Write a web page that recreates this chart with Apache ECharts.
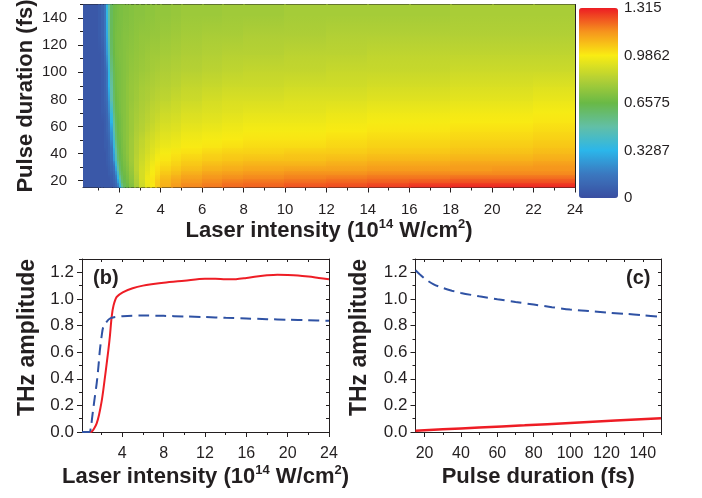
<!DOCTYPE html>
<html>
<head>
<meta charset="utf-8">
<script src="https://cdn.jsdelivr.net/npm/echarts@6/dist/echarts.min.js"></script>
<style>
  html, body { margin: 0; padding: 0; background: #fff; }
  #chart { width: 702px; height: 498px; }
</style>
</head>
<body>
<div id="chart"></div>
<script>
// ---- Panel (a): THz amplitude map over laser intensity x pulse duration ----
// Cell edges along intensity (10^14 W/cm^2)
const intensityEdges = [0.25, 1.0, 1.15, 1.3, 1.4, 1.5, 1.6, 1.7, 1.8, 1.9,
  2.0, 2.1, 2.2, 2.35, 2.5, 2.75, 3.0, 3.25, 3.5, 3.75,
  4.0, 4.5, 5, 6, 7, 8, 10, 12, 14, 16, 18, 20, 22, 24];
// Cell edges along pulse duration (fs)
const durationEdges = [15, 18, 21, 24, 27, 30, 34, 38, 43, 48, 54, 60, 67, 75, 85, 95, 107, 120, 135, 150];
// Amplitude per cell, one row per duration band (bottom to top)
const ampRow00 = [.04,.04,.04,.04,.04,.04,.04,.06,.09,.15,.33,.52,.62,.66,.71,.80,.88,.95,.99,1.05,1.10,1.14,1.17,1.19,1.21,1.22,1.24,1.25,1.27,1.29,1.30,1.30,1.30];
const ampRow01 = [.04,.04,.04,.04,.04,.04,.06,.08,.12,.25,.42,.60,.64,.68,.73,.81,.89,.96,1.00,1.05,1.09,1.12,1.15,1.17,1.19,1.20,1.21,1.22,1.23,1.24,1.25,1.25,1.25];
const ampRow02 = [.04,.04,.04,.04,.04,.04,.06,.09,.14,.33,.50,.61,.65,.69,.74,.82,.90,.96,1.00,1.04,1.08,1.11,1.13,1.15,1.16,1.17,1.18,1.19,1.20,1.20,1.21,1.21,1.21];
const ampRow03 = [.04,.04,.04,.04,.04,.06,.07,.10,.20,.38,.57,.63,.67,.70,.75,.83,.90,.95,.99,1.02,1.06,1.08,1.11,1.13,1.14,1.15,1.16,1.16,1.17,1.17,1.17,1.17,1.17];
const ampRow04 = [.04,.04,.04,.04,.04,.06,.09,.13,.26,.47,.60,.65,.68,.71,.76,.84,.90,.94,.98,1.01,1.04,1.06,1.08,1.10,1.11,1.12,1.13,1.13,1.14,1.14,1.14,1.15,1.15];
const ampRow05 = [.04,.04,.04,.04,.05,.07,.10,.15,.35,.52,.62,.66,.69,.72,.77,.84,.89,.93,.97,1.00,1.02,1.04,1.06,1.08,1.09,1.10,1.10,1.11,1.12,1.12,1.13,1.13,1.14];
const ampRow06 = [.04,.04,.04,.04,.06,.08,.12,.25,.42,.58,.64,.67,.70,.73,.78,.84,.88,.92,.95,.98,1.00,1.02,1.04,1.05,1.06,1.07,1.07,1.08,1.09,1.09,1.10,1.10,1.11];
const ampRow07 = [.04,.04,.04,.04,.06,.09,.14,.28,.48,.60,.65,.68,.71,.74,.78,.83,.87,.90,.93,.96,.98,1.00,1.01,1.03,1.04,1.04,1.05,1.05,1.06,1.06,1.07,1.07,1.08];
const ampRow08 = [.04,.04,.04,.06,.06,.09,.15,.35,.52,.62,.66,.69,.71,.74,.78,.83,.86,.89,.92,.94,.96,.97,.99,1.00,1.01,1.02,1.02,1.03,1.04,1.04,1.05,1.05,1.06];
const ampRow09 = [.04,.04,.04,.06,.07,.10,.22,.40,.58,.64,.67,.69,.72,.74,.78,.82,.85,.88,.90,.92,.94,.95,.97,.98,.99,1.00,1.00,1.01,1.02,1.02,1.03,1.03,1.04];
const ampRow10 = [.04,.04,.04,.06,.09,.13,.25,.47,.60,.65,.68,.70,.72,.74,.77,.81,.83,.86,.88,.90,.92,.93,.95,.96,.97,.98,.98,.99,1.00,1.00,1.01,1.01,1.02];
const ampRow11 = [.04,.04,.04,.06,.09,.15,.33,.52,.62,.66,.68,.70,.72,.74,.77,.80,.82,.84,.86,.88,.90,.91,.93,.94,.95,.96,.96,.97,.98,.98,.99,.99,1.00];
const ampRow12 = [.04,.04,.06,.07,.10,.20,.38,.57,.64,.67,.69,.71,.72,.74,.77,.79,.81,.83,.85,.86,.88,.89,.91,.92,.93,.94,.94,.95,.96,.96,.97,.97,.98];
const ampRow13 = [.04,.04,.06,.09,.12,.25,.48,.60,.66,.68,.70,.71,.72,.74,.76,.78,.80,.81,.83,.84,.85,.87,.88,.90,.91,.91,.92,.92,.93,.93,.94,.94,.95];
const ampRow14 = [.04,.04,.06,.09,.15,.33,.50,.62,.67,.69,.70,.71,.72,.74,.76,.77,.79,.80,.81,.82,.83,.84,.86,.87,.88,.88,.89,.89,.90,.90,.91,.91,.92];
const ampRow15 = [.04,.04,.06,.09,.15,.35,.55,.63,.68,.69,.70,.71,.72,.73,.75,.76,.77,.78,.79,.80,.81,.82,.83,.84,.85,.86,.86,.87,.87,.87,.88,.88,.88];
const ampRow16 = [.04,.04,.06,.12,.25,.42,.60,.66,.69,.70,.71,.71,.72,.73,.74,.75,.76,.77,.78,.78,.79,.80,.81,.82,.83,.83,.84,.84,.85,.85,.85,.85,.85];
const ampRow17 = [.04,.06,.09,.15,.30,.50,.62,.67,.69,.70,.70,.71,.72,.72,.73,.74,.75,.75,.76,.76,.77,.78,.79,.80,.80,.81,.81,.82,.82,.82,.82,.82,.82];
const ampRow18 = [.04,.06,.09,.15,.35,.50,.62,.67,.68,.69,.70,.70,.71,.71,.72,.73,.73,.74,.74,.75,.75,.76,.77,.77,.78,.78,.79,.79,.79,.79,.80,.80,.80];
const ampRows = [ampRow00, ampRow01, ampRow02, ampRow03, ampRow04, ampRow05, ampRow06, ampRow07, ampRow08, ampRow09,
  ampRow10, ampRow11, ampRow12, ampRow13, ampRow14, ampRow15, ampRow16, ampRow17, ampRow18];

// Colour scale of the map
const colorMin = 0;
const colorMax = 1.315;
const colorTicks = [0, 0.3287, 0.6575, 0.9862, 1.315];
const colorTickLabels = ['0', '0.3287', '0.6575', '0.9862', '1.315'];

// ---- Panel (b): amplitude vs laser intensity ----
const bSolidI = [0.1, 0.9, 1.1, 1.3, 1.52, 1.75, 2.0, 2.16, 2.4, 2.65, 2.8, 2.97, 3.15, 3.46, 4.04, 5, 6, 7, 8, 10, 12, 13, 14, 15, 16, 17, 18, 19, 20, 21, 22, 23, 24];
const bSolidA = [0, 0, 0.008, 0.03, 0.065, 0.13, 0.23, 0.315, 0.46, 0.615, 0.72, 0.865, 0.95, 1.015, 1.05, 1.08, 1.10, 1.112, 1.122, 1.137, 1.152, 1.152, 1.147, 1.148, 1.157, 1.168, 1.177, 1.182, 1.18, 1.176, 1.168, 1.158, 1.148];
const bDashI = [0.1, 0.8, 0.95, 1.1, 1.3, 1.52, 1.7, 1.83, 2.0, 2.16, 2.5, 2.81, 3.2, 4.03, 6, 8, 10, 12, 14, 16, 18, 20, 22, 24];
const bDashA = [0, 0, 0.03, 0.12, 0.24, 0.365, 0.5, 0.615, 0.72, 0.79, 0.83, 0.853, 0.863, 0.87, 0.875, 0.873, 0.868, 0.864, 0.858, 0.853, 0.848, 0.844, 0.84, 0.836];

// ---- Panel (c): amplitude vs pulse duration ----
const cSolidT = [15, 30, 50, 75, 100, 125, 150];
const cSolidA = [0.01, 0.02, 0.033, 0.05, 0.068, 0.086, 0.103];
const cDashT = [15, 17, 20, 25, 30, 35, 40, 50, 60, 70, 80, 90, 100, 110, 120, 130, 140, 150];
const cDashA = [1.215, 1.19, 1.153, 1.11, 1.083, 1.062, 1.045, 1.02, 0.998, 0.977, 0.958, 0.938, 0.92, 0.91, 0.898, 0.888, 0.878, 0.865];

// Tick positions
const aXMajor = [2, 4, 6, 8, 10, 12, 14, 16, 18, 20, 22, 24];
const aXMinor = [1, 3, 5, 7, 9, 11, 13, 15, 17, 19, 21, 23];
const aYMajor = [20, 40, 60, 80, 100, 120, 140];
const aYMinor = [30, 50, 70, 90, 110, 130, 150];
const bXMajor = [4, 8, 12, 16, 20, 24];
const bXMinor = [2, 6, 10, 14, 18, 22];
const ampMajor = [0, 0.2, 0.4, 0.6, 0.8, 1.0, 1.2];
const ampMinor = [0.1, 0.3, 0.5, 0.7, 0.9, 1.1, 1.3];
const cXMajor = [20, 40, 60, 80, 100, 120, 140];
const cXMinor = [30, 50, 70, 90, 110, 130, 150];

// ---------------------------------------------------------------
const TEXT = '#231f20';
const FONT = '"Liberation Sans", Arial, Helvetica, sans-serif';
const LINE = { color: TEXT, width: 1 };
const NCOLS = intensityEdges.length - 1;

const pairs = (xs, ys) => xs.map((x, i) => [x, ys[i]]);

const mapCells = [];
ampRows.forEach((row, r) => {
  row.forEach((v, c) => {
    mapCells.push([intensityEdges[c], intensityEdges[c + 1], durationEdges[r], durationEdges[r + 1], v]);
  });
});

const titleStyle = (size) => ({
  color: TEXT, fontFamily: FONT, fontWeight: 'bold', fontSize: size, lineHeight: size + 4,
  rich: { sup: { fontSize: Math.round(size * 0.6), fontWeight: 'bold', fontFamily: FONT, color: TEXT, verticalAlign: 'top', lineHeight: size + 4 } }
});

// main axis: line, major ticks and labels
function mainAxis(grid, pos, min, max, major, labelFmt, fontSize, margin, extra) {
  return Object.assign({
    type: 'value', gridIndex: grid, position: pos, min: min, max: max,
    nameMoveOverlap: false,
    axisLine: { show: true, onZero: false, lineStyle: LINE },
    axisTick: { show: true, inside: false, length: 5, customValues: major, lineStyle: LINE },
    axisLabel: { show: true, customValues: major, formatter: labelFmt, color: TEXT, fontFamily: FONT, fontSize: fontSize, margin: margin },
    splitLine: { show: false }
  }, extra || {});
}
// tick-only axis (minor ticks, or mirrored ticks on the opposite side)
function tickAxis(grid, pos, min, max, ticks, len, inside, showLine) {
  return {
    type: 'value', gridIndex: grid, position: pos, min: min, max: max,
    axisLine: { show: !!showLine, onZero: false, lineStyle: LINE },
    axisTick: { show: ticks.length > 0, inside: inside, length: len, customValues: ticks, lineStyle: LINE },
    axisLabel: { show: false },
    splitLine: { show: false }
  };
}

const intFmt = (v) => String(Math.round(v));
const ampFmt = (v) => v.toFixed(1);

// Each map cell is shaded from its own row centre up to the centre of the row above,
// blending the two colours the visual map assigns to those cells.
function renderMapCell(params, api) {
  const idx = params.dataIndexInside;
  const x0 = api.value(0), x1 = api.value(1), y0 = api.value(2), y1 = api.value(3);
  const yc = (y0 + y1) / 2;
  const col = api.visual('color');
  const left = Math.floor(api.coord([x0, yc])[0]);
  const right = Math.ceil(api.coord([x1, yc])[0]) + 1;
  const py = (v) => api.coord([x0, v])[1];
  const children = [];
  if (idx < NCOLS) {
    const top = Math.floor(py(yc)), bottom = Math.ceil(py(y0)) + 1;
    children.push({ type: 'rect', shape: { x: left, y: top, width: right - left, height: bottom - top }, style: { fill: col } });
  }
  const up = idx + NCOLS;
  if (up < params.dataInsideLength) {
    const ycUp = (api.value(2, up) + api.value(3, up)) / 2;
    const colUp = api.visual('color', up);
    const top = Math.floor(py(ycUp)), bottom = Math.ceil(py(yc)) + 1;
    children.push({
      type: 'rect', shape: { x: left, y: top, width: right - left, height: bottom - top },
      style: { fill: { type: 'linear', x: 0, y: 0, x2: 0, y2: 1, colorStops: [{ offset: 0, color: colUp }, { offset: 1, color: col }] } }
    });
  } else {
    const top = Math.floor(py(y1)) - 1, bottom = Math.ceil(py(yc)) + 1;
    children.push({ type: 'rect', shape: { x: left, y: top, width: right - left, height: bottom - top }, style: { fill: col } });
  }
  return { type: 'group', children: children };
}

const option = {
  backgroundColor: '#ffffff',
  animation: false,
  grid: [
    { left: 83, top: 4.5, width: 492, height: 183, outerBoundsMode: 'none', containLabel: false },      // (a)
    { left: 82, top: 259, width: 247, height: 173, outerBoundsMode: 'none', containLabel: false },      // (b)
    { left: 415.5, top: 259, width: 245.5, height: 173, outerBoundsMode: 'none', containLabel: false }, // (c)
    { left: 579, top: 8, width: 39, height: 190, outerBoundsMode: 'none', containLabel: false }         // colour bar labels
  ],
  visualMap: {
    type: 'continuous', seriesIndex: 0, dimension: 4,
    min: colorMin, max: colorMax,
    orient: 'vertical', left: 579, top: 8, padding: 0,
    itemWidth: 39, itemHeight: 190,
    calculable: false, hoverLink: false,
    inRange: { color: ['#3a4ea1', '#3b78bf', '#2bb6ea', '#62bfa6', '#69b946', '#b3d035', '#f9ec13', '#f6951d', '#ec1c24'] }
  },
  xAxis: [
    mainAxis(0, 'bottom', 0.25, 24, aXMajor, intFmt, 15, 15, {
      name: 'Laser intensity (10{sup|14} W/cm{sup|2})', nameLocation: 'middle', nameGap: 30, nameTextStyle: titleStyle(22)
    }),
    tickAxis(0, 'bottom', 0.25, 24, aXMinor, 3, false, false),
    tickAxis(0, 'top', 0.25, 24, [], 0, true, true),

    mainAxis(1, 'bottom', 0.1, 24, bXMajor, intFmt, 16, 14, {
      name: 'Laser intensity (10{sup|14} W/cm{sup|2})', nameLocation: 'middle', nameGap: 32, nameTextStyle: titleStyle(22)
    }),
    tickAxis(1, 'bottom', 0.1, 24, bXMinor, 3, false, false),
    tickAxis(1, 'top', 0.1, 24, bXMajor.concat(bXMinor), 3, true, true),

    mainAxis(2, 'bottom', 15, 150, cXMajor, intFmt, 16, 14, {
      name: 'Pulse duration (fs)', nameLocation: 'middle', nameGap: 32, nameTextStyle: titleStyle(22)
    }),
    tickAxis(2, 'bottom', 15, 150, cXMinor, 3, false, false),
    tickAxis(2, 'top', 15, 150, cXMajor.concat(cXMinor), 3, true, true),

    { type: 'value', gridIndex: 3, min: 0, max: 1, show: false }
  ],
  yAxis: [
    mainAxis(0, 'left', 15, 150, aYMajor, intFmt, 15, 16, {
      name: 'Pulse duration (fs)', nameLocation: 'middle', nameGap: 44, nameTextStyle: titleStyle(22)
    }),
    tickAxis(0, 'left', 15, 150, aYMinor, 3, false, false),
    tickAxis(0, 'right', 15, 150, [], 0, true, true),

    mainAxis(1, 'left', 0, 1.3, ampMajor, ampFmt, 17, 8, {
      name: 'THz amplitude', nameLocation: 'middle', nameGap: 41,
      nameTextStyle: Object.assign(titleStyle(23), { padding: [0, 0, 0, 16] })
    }),
    tickAxis(1, 'left', 0, 1.3, ampMinor, 3, false, false),
    tickAxis(1, 'right', 0, 1.3, ampMajor.concat(ampMinor), 3, true, true),

    mainAxis(2, 'left', 0, 1.3, ampMajor, ampFmt, 17, 8, {
      name: 'THz amplitude', nameLocation: 'middle', nameGap: 42,
      nameTextStyle: Object.assign(titleStyle(23), { padding: [0, 0, 0, 16] })
    }),
    tickAxis(2, 'left', 0, 1.3, ampMinor, 3, false, false),
    tickAxis(2, 'right', 0, 1.3, ampMajor.concat(ampMinor), 3, true, true),

    {
      type: 'value', gridIndex: 3, position: 'right', min: colorMin, max: colorMax,
      axisLine: { show: false }, axisTick: { show: false }, splitLine: { show: false },
      axisLabel: {
        show: true, customValues: colorTicks, color: TEXT, fontFamily: FONT, fontSize: 15, margin: 6,
        formatter: (v) => colorTickLabels[colorTicks.indexOf(v)]
      }
    }
  ],
  series: [
    {
      type: 'custom', name: 'THz map', xAxisIndex: 0, yAxisIndex: 0, clip: true,
      data: mapCells,
      encode: { x: [0, 1], y: [2, 3] },
      renderItem: renderMapCell
    },
    {
      type: 'line', xAxisIndex: 3, yAxisIndex: 3, data: pairs(bSolidI, bSolidA),
      smooth: 0.3, showSymbol: false, lineStyle: { color: '#ee1d25', width: 2 }
    },
    {
      type: 'line', xAxisIndex: 3, yAxisIndex: 3, data: pairs(bDashI, bDashA),
      smooth: 0.3, showSymbol: false, lineStyle: { color: '#2f52a4', width: 2, type: [11, 6] }
    },
    {
      type: 'line', xAxisIndex: 6, yAxisIndex: 6, data: pairs(cSolidT, cSolidA),
      smooth: true, showSymbol: false, lineStyle: { color: '#ee1d25', width: 2.5 }
    },
    {
      type: 'line', xAxisIndex: 6, yAxisIndex: 6, data: pairs(cDashT, cDashA),
      smooth: 0.3, showSymbol: false, lineStyle: { color: '#2f52a4', width: 2, type: [11, 6] }
    }
  ],
  graphic: [
    { type: 'text', left: 536, top: 13, style: { text: '(a)', font: 'bold 20px ' + FONT, fill: TEXT } },
    { type: 'text', left: 93, top: 268, style: { text: '(b)', font: 'bold 20px ' + FONT, fill: TEXT } },
    { type: 'text', left: 626, top: 268, style: { text: '(c)', font: 'bold 20px ' + FONT, fill: TEXT } }
  ]
};

const chart = echarts.init(document.getElementById('chart'), null, { renderer: 'canvas' });
chart.setOption(option);
</script>
</body>
</html>
